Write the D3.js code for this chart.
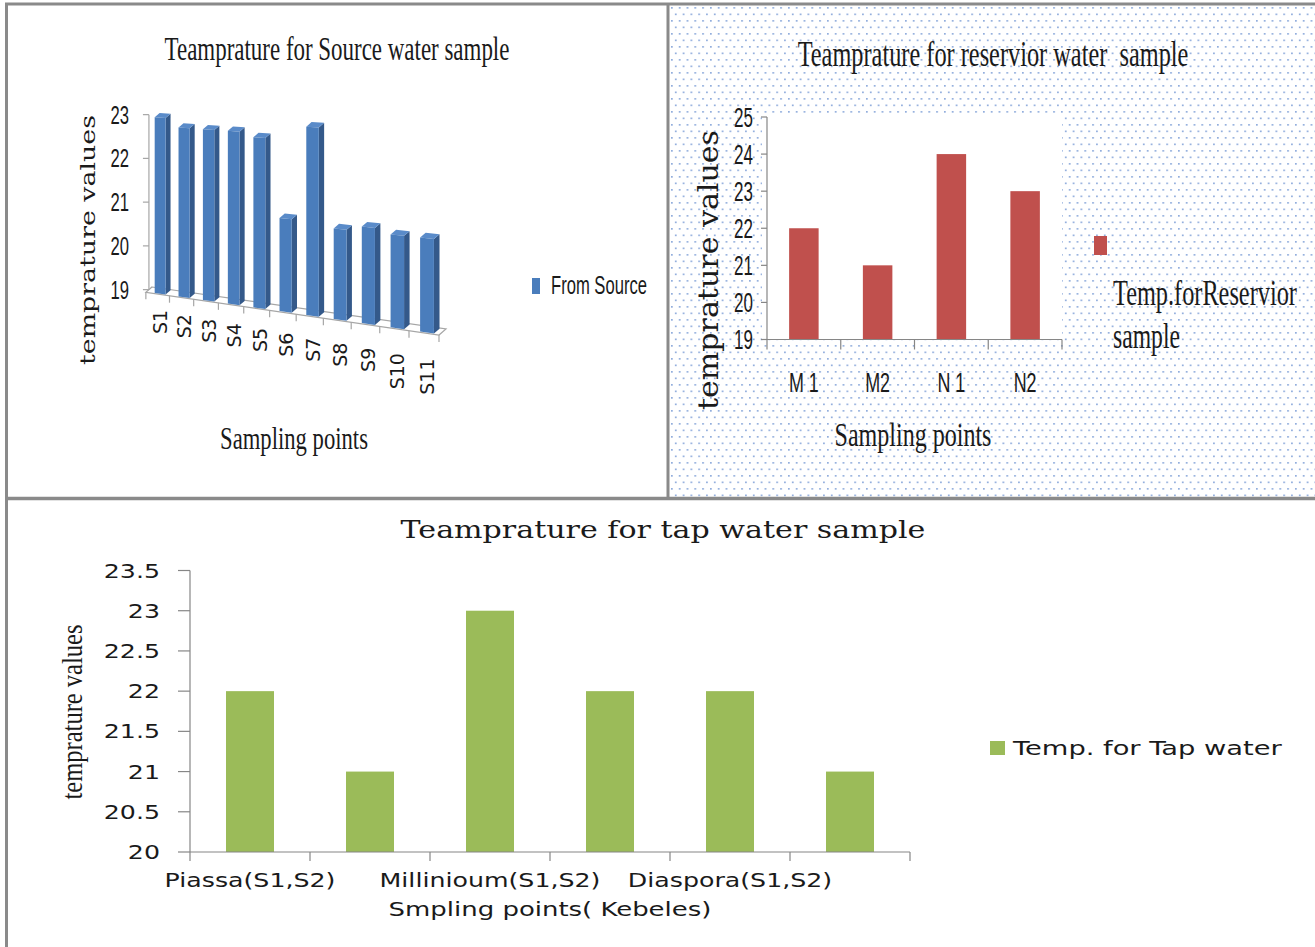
<!DOCTYPE html>
<html>
<head>
<meta charset="utf-8">
<script src="https://cdn.jsdelivr.net/npm/d3@7"></script>
<style>
  body { margin: 0; background: #ffffff; }
  text { fill: #1a1a1a; }
</style>
</head>
<body>
<svg id="chart" width="1315" height="947"></svg>
<script>
// ---- data ----
const sourcePoints = ["S1", "S2", "S3", "S4", "S5", "S6", "S7", "S8", "S9", "S10", "S11"];
const sourceTemps = [23, 22.8, 22.8, 22.8, 22.7, 21, 23, 20.9, 21, 20.9, 20.9];
const sourceTicks = [19, 20, 21, 22, 23];

const reservoirPoints = ["M 1", "M2", "N 1", "N2"];
const reservoirTemps = [22, 21, 24, 23];
const reservoirTicks = [19, 20, 21, 22, 23, 24, 25];

const tapPoints = ["Piassa(S1,S2)", "", "Millinioum(S1,S2)", "", "Diaspora(S1,S2)", ""];
const tapTemps = [22, 21, 23, 22, 22, 21];
const tapTicks = [20, 20.5, 21, 21.5, 22, 22.5, 23, 23.5];

// ---- helpers ----
const svg = d3.select("#chart");
const AXIS = "#868686";

// place a text at (x, y) and scale it horizontally so it spans `len` px
// (or, with factor mode, a multiple of its natural width)
function fitWidth(sel, len, factor) {
  sel.each(function () {
    const el = d3.select(this);
    const x = +el.attr("x") || 0, y = +el.attr("y") || 0;
    const w = this.getComputedTextLength();
    const sx = factor ? len : len / w;
    el.attr("x", 0).attr("y", 0).attr("transform", `translate(${x},${y}) scale(${sx},1)`);
  });
  return sel;
}
const fixedText = (sel, len) => fitWidth(sel, len, false);
const scaleText = (sel, f) => fitWidth(sel, f, true);

// ---- dotted background of the reservoir panel ----
const defs = svg.append("defs");
const pat = defs.append("pattern")
  .attr("id", "dots").attr("patternUnits", "userSpaceOnUse")
  .attr("x", 670).attr("y", 6).attr("width", 7.8).attr("height", 13);
pat.append("rect").attr("x", 1).attr("y", 1).attr("width", 1.7).attr("height", 1.7).attr("fill", "#8eabdc");
pat.append("rect").attr("x", 4.9).attr("y", 7.5).attr("width", 1.7).attr("height", 1.7).attr("fill", "#8eabdc");
svg.append("rect").attr("x", 669).attr("y", 5).attr("width", 646).attr("height", 492).attr("fill", "url(#dots)");

// ---- panel frames ----
const frame = svg.append("g").attr("stroke", "#8a8a8a").attr("stroke-width", 3);
frame.append("line").attr("x1", 5).attr("x2", 1315).attr("y1", 4).attr("y2", 4);
frame.append("line").attr("x1", 6.5).attr("x2", 6.5).attr("y1", 3).attr("y2", 947);
frame.append("line").attr("x1", 668).attr("x2", 668).attr("y1", 3).attr("y2", 498);
frame.append("line").attr("x1", 5).attr("x2", 1315).attr("y1", 498.5).attr("y2", 498.5).attr("stroke-width", 3.5);

// =====================================================================
// Panel 1: 3-D columns, source water
// =====================================================================
(function () {
  const g = svg.append("g");
  const n = sourcePoints.length;
  const rho = 1.14;                 // perspective ratio far/near
  const BL = [152, 287], BR = [446, 329];
  const depth = [7, 6];
  const kBack = 43.75;              // px per degree at the far left
  const uScale = d3.scaleLinear().domain([0, n]).range([0, 1]);
  const vScale = d3.scaleLinear().domain([19, 23]).range([0, 4 * kBack * rho]);

  // c: category position, w: depth (1 back .. 0 front), v: temperature
  function proj(c, w, v) {
    const t = uScale(c);
    const s = t / (rho - (rho - 1) * t);
    const pf = (1 - s) / rho + s;
    const x = BL[0] + s * (BR[0] - BL[0]) - depth[0] * (1 - w) * pf;
    const y = BL[1] + s * (BR[1] - BL[1]) + depth[1] * (1 - w) * pf - vScale(v) * pf;
    return [x, y];
  }
  const poly = pts => pts.map(p => p.join(",")).join(" ");

  // floor
  g.append("polygon")
    .attr("points", poly([proj(0, 1, 19), proj(n, 1, 19), proj(n, 0, 19), proj(0, 0, 19)]))
    .attr("fill", "none").attr("stroke", "#a6a6a6").attr("stroke-width", 1.2);

  // category ticks on the floor edge
  d3.range(n + 1).forEach(j => {
    const p = proj(j, 0, 19);
    g.append("line").attr("x1", p[0]).attr("x2", p[0]).attr("y1", p[1]).attr("y2", p[1] + 7)
      .attr("stroke", "#a6a6a6").attr("stroke-width", 1.2);
  });

  // value axis
  const a0 = proj(0, 0.5, 19), a1 = proj(0, 0.5, 23);
  g.append("line").attr("x1", a0[0]).attr("x2", a1[0]).attr("y1", a0[1]).attr("y2", a1[1])
    .attr("stroke", "#a6a6a6").attr("stroke-width", 1.2);
  sourceTicks.forEach(v => {
    const p = proj(0, 0.5, v);
    g.append("line").attr("x1", p[0] - 6).attr("x2", p[0]).attr("y1", p[1]).attr("y2", p[1])
      .attr("stroke", "#a6a6a6").attr("stroke-width", 1.2);
    g.append("text").attr("x", 129).attr("y", p[1] + 9)
      .attr("text-anchor", "end").attr("font-family", "Liberation Sans").attr("font-size", 26)
      .text(v).call(scaleText, 0.64);
  });

  // columns
  const bw = 0.46, wf = 0.1, wb = 0.9;
  sourceTemps.forEach((v, i) => {
    const c0 = i + (1 - bw) / 2 + 0.08, c1 = i + (1 + bw) / 2 + 0.08;
    const bar = g.append("g");
    bar.append("polygon")
      .attr("points", poly([proj(c1, wf, 19), proj(c1, wb, 19), proj(c1, wb, v), proj(c1, wf, v)]))
      .attr("fill", "#34598a");
    bar.append("polygon")
      .attr("points", poly([proj(c0, wf, v), proj(c1, wf, v), proj(c1, wb, v), proj(c0, wb, v)]))
      .attr("fill", "#5a8bc9");
    bar.append("polygon")
      .attr("points", poly([proj(c0, wf, 19), proj(c1, wf, 19), proj(c1, wf, v), proj(c0, wf, v)]))
      .attr("fill", "#4a7dbc");
  });

  // category labels
  sourcePoints.forEach((name, i) => {
    const p = proj(i + 0.5, 0.3, 19);
    const t = uScale(i + 0.5);
    const s = t / (rho - (rho - 1) * t);
    g.append("text")
      .attr("transform", `translate(${p[0] + 8},${p[1] + 17 + 11 * s}) rotate(-90)`)
      .attr("text-anchor", "end").attr("font-family", "DejaVu Sans").attr("font-size", 19)
      .text(name);
  });

  // titles
  g.append("text").attr("x", 337).attr("y", 60).attr("text-anchor", "middle")
    .attr("font-family", "Liberation Serif").attr("font-size", 33)
    .text("Teamprature for Source water sample").call(fixedText, 345);
  g.append("text").attr("transform", "translate(95,240) rotate(-90) scale(1,0.74)")
    .attr("text-anchor", "middle").attr("font-family", "DejaVu Serif").attr("font-size", 28)
    .attr("textLength", 250).attr("lengthAdjust", "spacingAndGlyphs")
    .text("temprature values");
  g.append("text").attr("x", 294).attr("y", 449).attr("text-anchor", "middle")
    .attr("font-family", "Liberation Serif").attr("font-size", 32)
    .text("Sampling points").call(fixedText, 148);

  // legend
  g.append("rect").attr("x", 532).attr("y", 278).attr("width", 8).attr("height", 16).attr("fill", "#4a7dbc");
  g.append("text").attr("x", 551).attr("y", 294).attr("font-family", "Liberation Sans").attr("font-size", 25)
    .text("From Source").call(fixedText, 96);
})();

// =====================================================================
// Panel 2: reservoir water
// =====================================================================
(function () {
  const g = svg.append("g");
  const x = d3.scaleBand().domain(d3.range(reservoirPoints.length)).range([767, 1062])
    .paddingInner(0.6).paddingOuter(0.3);
  const y = d3.scaleLinear().domain([19, 25]).range([339.5, 117]);

  g.append("rect").attr("x", 762).attr("y", 113).attr("width", 300).attr("height", 226.5).attr("fill", "#ffffff");

  g.selectAll("rect.bar").data(reservoirTemps).join("rect").attr("class", "bar")
    .attr("x", (d, i) => x(i)).attr("width", x.bandwidth())
    .attr("y", d => y(d)).attr("height", d => y(19) - y(d))
    .attr("fill", "#c0504d");

  // axes
  g.append("line").attr("x1", 767).attr("x2", 767).attr("y1", y(25)).attr("y2", y(19)).attr("stroke", AXIS).attr("stroke-width", 1.2);
  g.append("line").attr("x1", 767).attr("x2", 1062).attr("y1", y(19)).attr("y2", y(19)).attr("stroke", AXIS).attr("stroke-width", 1.2);
  reservoirTicks.forEach(v => {
    g.append("line").attr("x1", 761).attr("x2", 767).attr("y1", y(v)).attr("y2", y(v)).attr("stroke", AXIS).attr("stroke-width", 1.2);
    g.append("text").attr("x", 753).attr("y", y(v) + 9.5).attr("text-anchor", "end")
      .attr("font-family", "Liberation Sans").attr("font-size", 27).text(v).call(scaleText, 0.63);
  });
  const step = x.step();
  d3.range(reservoirPoints.length + 1).forEach(j => {
    const xx = 767 + j * step;
    g.append("line").attr("x1", xx).attr("x2", xx).attr("y1", y(19)).attr("y2", y(19) + 10).attr("stroke", AXIS).attr("stroke-width", 1.2);
  });
  reservoirPoints.forEach((name, i) => {
    g.append("text").attr("x", x(i) + x.bandwidth() / 2).attr("y", 392).attr("text-anchor", "middle")
      .attr("font-family", "Liberation Sans").attr("font-size", 28).text(name).call(scaleText, 0.64);
  });

  // titles
  g.append("text").attr("x", 993).attr("y", 66).attr("text-anchor", "middle")
    .attr("font-family", "Liberation Serif").attr("font-size", 35).style("white-space", "pre")
    .text("Teamprature for reservior water  sample").call(fixedText, 391);
  g.append("text").attr("transform", "translate(718,270) rotate(-90) scale(1,0.86)")
    .attr("text-anchor", "middle").attr("font-family", "DejaVu Serif").attr("font-size", 32)
    .attr("textLength", 280).attr("lengthAdjust", "spacingAndGlyphs")
    .text("temprature values");
  g.append("text").attr("x", 913).attr("y", 446).attr("text-anchor", "middle")
    .attr("font-family", "Liberation Serif").attr("font-size", 33)
    .text("Sampling points").call(fixedText, 157);

  // legend
  g.append("rect").attr("x", 1094).attr("y", 236).attr("width", 13).attr("height", 19).attr("fill", "#c0504d");
  g.append("text").attr("x", 1113).attr("y", 305).attr("font-family", "Liberation Serif").attr("font-size", 36)
    .text("Temp.forReservior").call(fixedText, 184);
  g.append("text").attr("x", 1113).attr("y", 348).attr("font-family", "Liberation Serif").attr("font-size", 36)
    .text("sample").call(fixedText, 67);
})();

// =====================================================================
// Panel 3: tap water
// =====================================================================
(function () {
  const g = svg.append("g");
  const x = d3.scaleBand().domain(d3.range(tapTemps.length)).range([190, 910])
    .paddingInner(0.6).paddingOuter(0.3);
  const y = d3.scaleLinear().domain([20, 23.5]).range([852, 570.5]);

  g.selectAll("rect.bar").data(tapTemps).join("rect").attr("class", "bar")
    .attr("x", (d, i) => x(i)).attr("width", x.bandwidth())
    .attr("y", d => y(d)).attr("height", d => y(20) - y(d))
    .attr("fill", "#9bbb59");

  g.append("line").attr("x1", 190).attr("x2", 190).attr("y1", y(23.5)).attr("y2", y(20)).attr("stroke", AXIS).attr("stroke-width", 1.2);
  g.append("line").attr("x1", 190).attr("x2", 910).attr("y1", y(20)).attr("y2", y(20)).attr("stroke", AXIS).attr("stroke-width", 1.2);
  tapTicks.forEach(v => {
    g.append("line").attr("x1", 178).attr("x2", 190).attr("y1", y(v)).attr("y2", y(v)).attr("stroke", AXIS).attr("stroke-width", 1.2);
    g.append("text").attr("x", 160).attr("y", y(v) + 7).attr("text-anchor", "end")
      .attr("font-family", "DejaVu Sans").attr("font-size", 19).text(String(v)).call(scaleText, 1.33);
  });
  const step = x.step();
  d3.range(tapTemps.length + 1).forEach(j => {
    const xx = 190 + j * step;
    g.append("line").attr("x1", xx).attr("x2", xx).attr("y1", y(20)).attr("y2", y(20) + 9).attr("stroke", AXIS).attr("stroke-width", 1.2);
  });
  tapPoints.forEach((name, i) => {
    if (!name) return;
    g.append("text").attr("x", x(i) + x.bandwidth() / 2).attr("y", 887).attr("text-anchor", "middle")
      .attr("font-family", "DejaVu Sans").attr("font-size", 19).text(name).call(scaleText, 1.33);
  });

  // titles
  g.append("text").attr("x", 663).attr("y", 538).attr("text-anchor", "middle")
    .attr("font-family", "DejaVu Serif").attr("font-size", 24)
    .text("Teamprature for tap water sample").call(fixedText, 525);
  g.append("text").attr("transform", "translate(82,712) rotate(-90) scale(1,1.3)")
    .attr("text-anchor", "middle").attr("font-family", "Liberation Serif").attr("font-size", 23)
    .attr("textLength", 175).attr("lengthAdjust", "spacingAndGlyphs")
    .text("temprature values");
  g.append("text").attr("x", 550).attr("y", 916).attr("text-anchor", "middle")
    .attr("font-family", "DejaVu Sans").attr("font-size", 19)
    .text("Smpling points( Kebeles)").call(fixedText, 323);

  // legend
  g.append("rect").attr("x", 990).attr("y", 741).attr("width", 15).attr("height", 14).attr("fill", "#9bbb59");
  g.append("text").attr("x", 1013).attr("y", 755).attr("font-family", "DejaVu Sans").attr("font-size", 19)
    .text("Temp. for Tap water").call(fixedText, 269);
})();
</script>
</body>
</html>
